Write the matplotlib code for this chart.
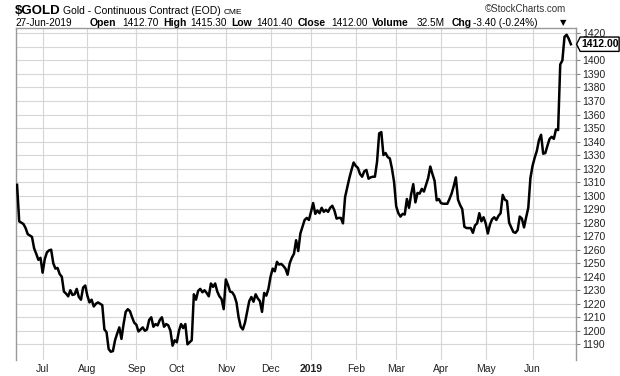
import matplotlib
matplotlib.use('Agg')
import matplotlib.pyplot as plt
import numpy as np
from matplotlib.patches import Polygon
from matplotlib.transforms import blended_transform_factory

plt.rcParams['font.family'] = ['Liberation Sans', 'DejaVu Sans']

# daily closes, Jun 2018 - 27 Jun 2019 (one value per trading day)
close = [
    1308, 1281, 1280, 1279, 1276, 1271.5, 1270.5, 1269.5, 1261, 1257,
    1252.5, 1254, 1243, 1253, 1258, 1259.5, 1260, 1250, 1246, 1246.5,
    1242, 1240, 1229, 1227.5, 1225.5, 1230, 1226.5, 1227, 1231, 1225,
    1223, 1232, 1233.5, 1226, 1221, 1223, 1218, 1220, 1221, 1220,
    1219, 1201, 1199, 1186.5, 1184.5, 1185, 1193, 1198, 1202.5, 1194,
    1205, 1214, 1216, 1214.5, 1210, 1206, 1204.5, 1199.5, 1201, 1202.5,
    1200, 1201, 1208, 1210, 1203, 1205, 1204, 1208, 1210, 1203,
    1205, 1204, 1200, 1189, 1193, 1191.5, 1200, 1205, 1202, 1205,
    1190, 1191.5, 1193, 1227, 1223, 1229.5, 1231, 1228.5, 1230, 1228,
    1225.5, 1235, 1232.5, 1235, 1229, 1225.5, 1223.5, 1216, 1238, 1234,
    1229, 1228.5, 1226, 1221, 1210, 1203, 1201, 1206, 1214, 1222,
    1225, 1221.5, 1227, 1224, 1222, 1214, 1228, 1226, 1231, 1240,
    1246, 1244, 1251, 1249, 1249.5, 1248, 1246, 1241.5, 1250, 1254,
    1257, 1267, 1259, 1272, 1277, 1282, 1283.5, 1282, 1288, 1294.5,
    1286.5, 1289, 1287, 1291, 1288, 1289.5, 1288, 1291, 1292.5, 1289,
    1283, 1283.5, 1283.5, 1279.5, 1299, 1306, 1313, 1319, 1324.5, 1322,
    1320.5, 1316, 1314, 1318, 1319, 1312.5, 1313.5, 1314, 1314, 1325,
    1346, 1347, 1330, 1331.5, 1328.5, 1327.5, 1320, 1310, 1292, 1287,
    1284.5, 1286.5, 1286, 1297.5, 1291, 1301, 1308.5, 1295, 1302, 1301.5,
    1305, 1303, 1308, 1313, 1321.5, 1316, 1311, 1296.5, 1297.5, 1294.5,
    1294, 1294, 1294, 1297.5, 1301.5, 1307, 1313.5, 1297, 1293, 1290,
    1277, 1276, 1276, 1276, 1272.5, 1278, 1279.5, 1287, 1281, 1284,
    1279.5, 1272, 1278.5, 1282.5, 1284, 1282, 1285, 1287, 1300.5, 1297,
    1296, 1280, 1276.5, 1273, 1272.5, 1274.5, 1284.5, 1283, 1276.5, 1284,
    1291, 1313, 1322, 1328, 1333, 1341, 1345, 1331, 1331.5, 1337,
    1342, 1343.5, 1342, 1349, 1348.5, 1397, 1400, 1417.5, 1419, 1416,
    1412,
]
last_close = 1412.00

# first trading day of each month (index into close)
month_idx = [12, 33, 56, 75, 98, 119, 138, 159, 178, 199, 220, 242]
month_lbl = ['Jul', 'Aug', 'Sep', 'Oct', 'Nov', 'Dec', '2019', 'Feb', 'Mar', 'Apr', 'May', 'Jun']

price_ticks = list(range(1190, 1430, 10))

W, H = 620, 376
fig = plt.figure(figsize=(W / 100, H / 100), dpi=100)
ax = fig.add_axes([16 / W, 1 - 360 / H, 560 / W, 332 / H])

x = np.arange(len(close))
ax.plot(x, close, color='black', lw=1.8, solid_joinstyle='round', zorder=3)

ax.set_xlim(-0.5, 262.4)
ax.set_ylim(1178.4, 1424)

grid_c = '#d6d6d6'
ax.set_yticks(price_ticks)
ax.set_yticklabels(['' if p == 1410 else str(p) for p in price_ticks])
ax.yaxis.tick_right()
ax.tick_params(axis='y', direction='out', length=3, width=0.8, color='#888888',
               labelsize=7.5, pad=1.5, labelcolor='#222222')
ax.set_xticks(month_idx)
ax.set_xticklabels(month_lbl)
ax.tick_params(axis='x', length=0, labelsize=7.5, pad=3, labelcolor='#222222')
for t in ax.get_xticklabels():
    if t.get_text() == '2019':
        t.set_fontweight('bold')

ax.grid(True, color=grid_c, lw=0.8, zorder=0)
ax.set_axisbelow(True)
for s in ['left', 'right', 'top']:
    ax.spines[s].set_color('#999999')
    ax.spines[s].set_linewidth(1)
ax.spines['bottom'].set_visible(False)

# last price tag
tr = blended_transform_factory(ax.transAxes, ax.transData)
tag = Polygon([(1.001, last_close), (1.0075, last_close + 5.3), (1.077, last_close + 5.3),
               (1.077, last_close - 5.3), (1.0075, last_close - 5.3)],
              closed=True, transform=tr, clip_on=False, facecolor='white',
              edgecolor='black', lw=1, zorder=5)
ax.add_patch(tag)
ax.text(1.043, last_close, '%.2f' % last_close, transform=tr, ha='center', va='center',
        fontsize=7.5, fontweight='bold', zorder=6, clip_on=False)


def put(px, py, s, **kw):
    fig.text(px / W, 1 - py / H, s, va='baseline', **kw)


put(15, 14, '$GOLD', fontsize=9.5, fontweight='bold')
put(63, 13.5, 'Gold - Continuous Contract (EOD)', fontsize=7.5)
put(224, 13.5, 'CME', fontsize=6)
put(566, 12.5, '\u00a9StockCharts.com', fontsize=7, ha='right', color='#333333')

row = 25.5
vs = 7.2
put(15, row, '27-Jun-2019', fontsize=vs)
put(90, row, 'Open', fontsize=7.5, fontweight='bold')
put(122, row, '1412.70', fontsize=vs)
put(163, row, 'High', fontsize=7.5, fontweight='bold')
put(190, row, '1415.30', fontsize=vs)
put(231, row, 'Low', fontsize=7.5, fontweight='bold')
put(256, row, '1401.40', fontsize=vs)
put(298, row, 'Close', fontsize=7.5, fontweight='bold')
put(331, row, '1412.00', fontsize=vs)
put(372, row, 'Volume', fontsize=7.5, fontweight='bold')
put(417, row, '32.5M', fontsize=vs)
put(452, row, 'Chg', fontsize=7.5, fontweight='bold')
put(473, row, '-3.40 (-0.24%)', fontsize=vs)
put(560, row, '\u25bc', fontsize=6, family=['DejaVu Sans'])

fig.savefig('out.png', dpi=100)
